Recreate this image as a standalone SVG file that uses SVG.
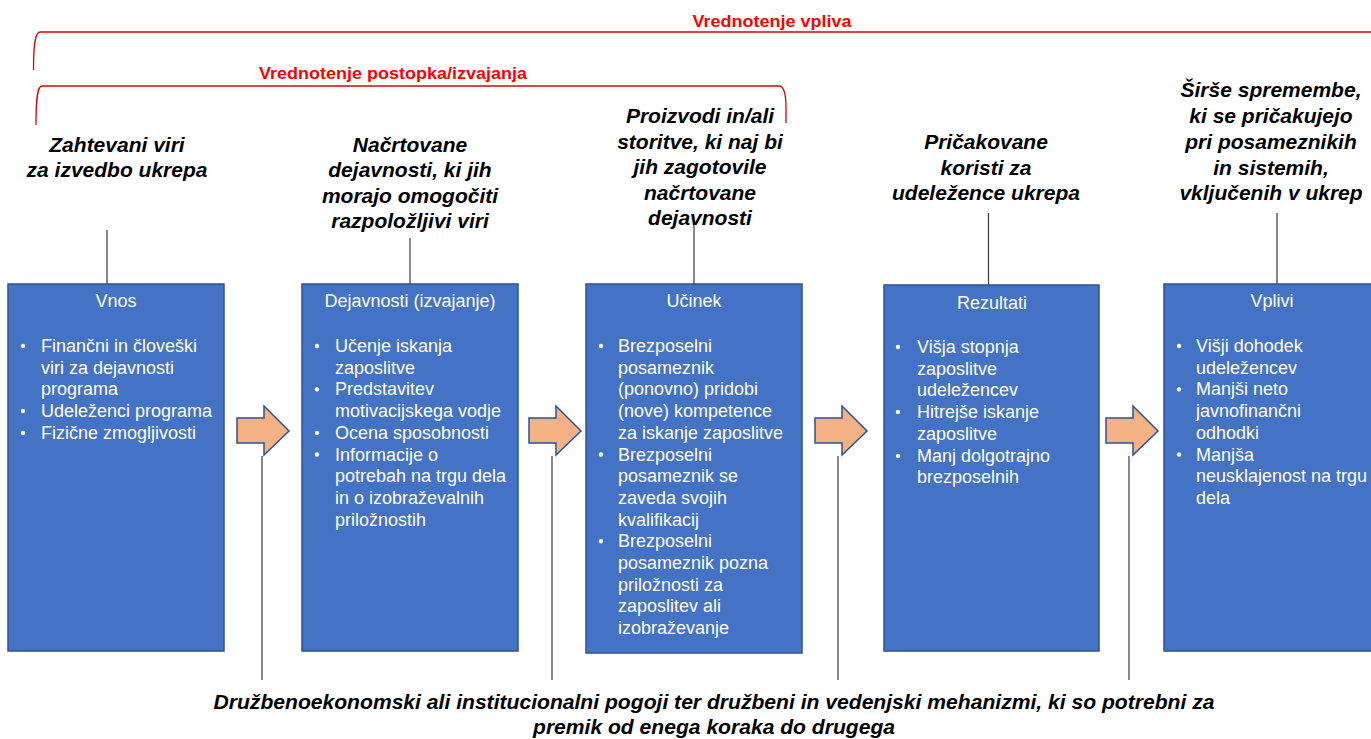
<svg xmlns="http://www.w3.org/2000/svg" width="1371" height="739" viewBox="0 0 1371 739">
<defs>
<style>
.box{fill:#4472C4;stroke:#2F528F;stroke-width:1.5}
.arrow{fill:#F4B183;stroke:#2F528F;stroke-width:1.5}
.ln{stroke:#3a3a3a;stroke-width:1.2;fill:none}
.br{stroke:#E00000;stroke-width:1.3;fill:none}
.red{font-family:"Liberation Sans",Arial,sans-serif;font-weight:bold;font-size:17px;fill:#FF0000;text-anchor:middle}
.hd{font-family:"Liberation Sans",Arial,sans-serif;font-weight:bold;font-style:italic;font-size:21px;fill:#000;text-anchor:middle}
.ti{font-family:"Liberation Sans",Arial,sans-serif;font-size:18px;fill:#fff;text-anchor:middle}
.bt{font-family:"Liberation Sans",Arial,sans-serif;font-size:18px;fill:#fff}
.bul{fill:#fff}
.ft{font-family:"Liberation Sans",Arial,sans-serif;font-weight:bold;font-style:italic;font-size:20px;fill:#000;text-anchor:middle}
</style>
</defs>
<rect width="1371" height="739" fill="#fff"/>

<g id="brackets">
<path class="br" d="M33.5,70 C33.5,46 35,32 40,32 H1375"/>
<text class="red" x="772" y="27" textLength="159" lengthAdjust="spacingAndGlyphs">Vrednotenje vpliva</text>
<path class="br" d="M36,125 C36,100 37,86 42,86 H779 C784,86 786,95 786,108 V123"/>
<text class="red" x="393" y="79" textLength="268" lengthAdjust="spacingAndGlyphs">Vrednotenje postopka/izvajanja</text>
</g>

<g id="connectors">
<line class="ln" x1="107" y1="230" x2="107" y2="284"/>
<line class="ln" x1="410" y1="238" x2="410" y2="284"/>
<line class="ln" x1="694" y1="220" x2="694" y2="284"/>
<line class="ln" x1="988.5" y1="213" x2="988.5" y2="285"/>
<line class="ln" x1="1277" y1="213" x2="1277" y2="284"/>
<line class="ln" x1="262" y1="456" x2="262" y2="680"/>
<line class="ln" x1="552" y1="456" x2="552" y2="680"/>
<line class="ln" x1="838" y1="456" x2="838" y2="680"/>
<line class="ln" x1="1129" y1="456" x2="1129" y2="680"/>
<path class="arrow" d="M237,418 H264 V406 L289,431 L264,455 V443 H237 Z"/>
<path class="arrow" d="M529,418 H556 V406 L581,431 L556,455 V443 H529 Z"/>
<path class="arrow" d="M815,418 H842 V406 L867,431 L842,455 V443 H815 Z"/>
<path class="arrow" d="M1106,418 H1133 V406 L1158,431 L1133,455 V443 H1106 Z"/>
</g>

<g id="headers">
<text class="hd" x="117"><tspan x="117" y="152">Zahtevani viri</tspan><tspan x="117" y="177">za izvedbo ukrepa</tspan></text>
<text class="hd" x="410"><tspan x="410" y="152">Načrtovane</tspan><tspan x="410" y="177">dejavnosti, ki jih</tspan><tspan x="410" y="203">morajo omogočiti</tspan><tspan x="410" y="228">razpoložljivi viri</tspan></text>
<text class="hd" x="700"><tspan x="700" y="123">Proizvodi in/ali</tspan><tspan x="700" y="148.5">storitve, ki naj bi</tspan><tspan x="700" y="174">jih zagotovile</tspan><tspan x="700" y="199.5">načrtovane</tspan><tspan x="700" y="225">dejavnosti</tspan></text>
<text class="hd" x="986"><tspan x="986" y="149">Pričakovane</tspan><tspan x="986" y="175">koristi za</tspan><tspan x="986" y="200">udeležence ukrepa</tspan></text>
<text class="hd" x="1271"><tspan x="1271" y="97">Širše spremembe,</tspan><tspan x="1271" y="123">ki se pričakujejo</tspan><tspan x="1271" y="149">pri posameznikih</tspan><tspan x="1271" y="175">in sistemih,</tspan><tspan x="1271" y="200">vključenih v ukrep</tspan></text>
</g>

<g id="node-vnos">
<rect class="box" x="8" y="284" width="216" height="367"/>
<text class="ti" x="116" y="307">Vnos</text>
<circle class="bul" cx="23" cy="346" r="2.2"/>
<circle class="bul" cx="23" cy="411" r="2.2"/>
<circle class="bul" cx="23" cy="433" r="2.2"/>
<text class="bt"><tspan x="41" y="352">Finančni in človeški</tspan><tspan x="41" y="373.7">viri za dejavnosti</tspan><tspan x="41" y="395.4">programa</tspan><tspan x="41" y="417.1">Udeleženci programa</tspan><tspan x="41" y="438.8">Fizične zmogljivosti</tspan></text>
</g>

<g id="node-dejavnosti">
<rect class="box" x="302" y="284" width="216" height="367"/>
<text class="ti" x="410" y="307">Dejavnosti (izvajanje)</text>
<circle class="bul" cx="317" cy="346" r="2.2"/>
<circle class="bul" cx="317" cy="389.4" r="2.2"/>
<circle class="bul" cx="317" cy="433" r="2.2"/>
<circle class="bul" cx="317" cy="454.5" r="2.2"/>
<text class="bt"><tspan x="335" y="352">Učenje iskanja</tspan><tspan x="335" y="373.7">zaposlitve</tspan><tspan x="335" y="395.4">Predstavitev</tspan><tspan x="335" y="417.1">motivacijskega vodje</tspan><tspan x="335" y="438.8">Ocena sposobnosti</tspan><tspan x="335" y="460.5">Informacije o</tspan><tspan x="335" y="482.2">potrebah na trgu dela</tspan><tspan x="335" y="503.9">in o izobraževalnih</tspan><tspan x="335" y="525.6">priložnostih</tspan></text>
</g>

<g id="node-ucinek">
<rect class="box" x="586" y="284" width="216" height="369"/>
<text class="ti" x="694" y="307">Učinek</text>
<circle class="bul" cx="601" cy="346" r="2.2"/>
<circle class="bul" cx="601" cy="454.5" r="2.2"/>
<circle class="bul" cx="601" cy="541.3" r="2.2"/>
<text class="bt"><tspan x="618" y="352">Brezposelni</tspan><tspan x="618" y="373.7">posameznik</tspan><tspan x="618" y="395.4">(ponovno) pridobi</tspan><tspan x="618" y="417.1">(nove) kompetence</tspan><tspan x="618" y="438.8">za iskanje zaposlitve</tspan><tspan x="618" y="460.5">Brezposelni</tspan><tspan x="618" y="482.2">posameznik se</tspan><tspan x="618" y="503.9">zaveda svojih</tspan><tspan x="618" y="525.6">kvalifikacij</tspan><tspan x="618" y="547.3">Brezposelni</tspan><tspan x="618" y="569">posameznik pozna</tspan><tspan x="618" y="590.7">priložnosti za</tspan><tspan x="618" y="612.4">zaposlitev ali</tspan><tspan x="618" y="634.1">izobraževanje</tspan></text>
</g>

<g id="node-rezultati">
<rect class="box" x="884" y="285" width="215" height="366"/>
<text class="ti" x="992" y="309">Rezultati</text>
<circle class="bul" cx="898" cy="347" r="2.2"/>
<circle class="bul" cx="898" cy="412" r="2.2"/>
<circle class="bul" cx="898" cy="456" r="2.2"/>
<text class="bt"><tspan x="917" y="353">Višja stopnja</tspan><tspan x="917" y="374.7">zaposlitve</tspan><tspan x="917" y="396.4">udeležencev</tspan><tspan x="917" y="418.1">Hitrejše iskanje</tspan><tspan x="917" y="439.8">zaposlitve</tspan><tspan x="917" y="461.5">Manj dolgotrajno</tspan><tspan x="917" y="483.2">brezposelnih</tspan></text>
</g>

<g id="node-vplivi">
<rect class="box" x="1164" y="284" width="230" height="367"/>
<text class="ti" x="1272" y="307">Vplivi</text>
<circle class="bul" cx="1179" cy="346" r="2.2"/>
<circle class="bul" cx="1179" cy="389.4" r="2.2"/>
<circle class="bul" cx="1179" cy="454.5" r="2.2"/>
<text class="bt"><tspan x="1196" y="352">Višji dohodek</tspan><tspan x="1196" y="373.7">udeležencev</tspan><tspan x="1196" y="395.4">Manjši neto</tspan><tspan x="1196" y="417.1">javnofinančni</tspan><tspan x="1196" y="438.8">odhodki</tspan><tspan x="1196" y="460.5">Manjša</tspan><tspan x="1196" y="482.2">neusklajenost na trgu</tspan><tspan x="1196" y="503.9">dela</tspan></text>
</g>

<g id="footer">
<text class="ft" x="714" y="709" textLength="1001" lengthAdjust="spacingAndGlyphs">Družbenoekonomski ali institucionalni pogoji ter družbeni in vedenjski mehanizmi, ki so potrebni za</text>
<text class="ft" x="714" y="734" textLength="362" lengthAdjust="spacingAndGlyphs">premik od enega koraka do drugega</text>
</g>
</svg>
